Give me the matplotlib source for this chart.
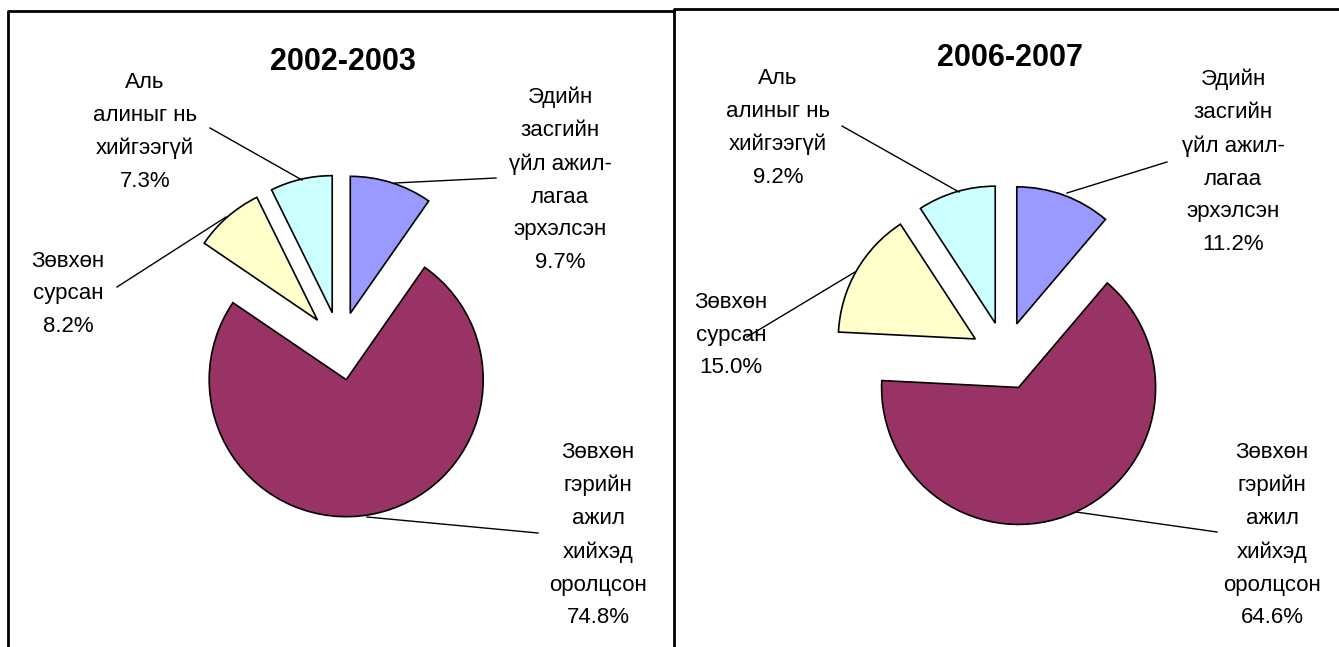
import matplotlib.pyplot as plt

# Daten
categories = [
    "Эдийн\nзасгийн\nүйл ажил-\nлагаа\nэрхэлсэн",
    "Зөвхөн\nгэрийн\nажил\nхийхэд\nоролцсон",
    "Зөвхөн\nсурсан",
    "Аль\nалиныг нь\nхийгээгүй",
]
colors = ["#9999FF", "#993366", "#FFFFCC", "#CCFFFF"]
titles = ["2002-2003", "2006-2007"]
values_2002 = [9.7, 74.8, 8.2, 7.3]
values_2006 = [11.2, 64.6, 15.0, 9.2]

W, H = 1339, 647
R = 137
plt.rcParams['font.family'] = ['Liberation Sans', 'DejaVu Sans']

fig = plt.figure(figsize=(W / 100, H / 100), dpi=100)
ax = fig.add_axes([0, 0, 1, 1])


def py(y):
    # Pixel-y (von oben) -> Datenkoordinate (von unten)
    return H - y


def draw_panel(values, title, center, title_pos, label_pos, leaders):
    # explode ist in Datenkoordinaten (Pixel), nicht relativ zum Radius
    ax.pie(values, colors=colors, startangle=90, counterclock=False,
           radius=R, center=(center[0], py(center[1])),
           explode=[0.25 * R] * len(values), frame=True,
           wedgeprops=dict(edgecolor='black', linewidth=1.2))
    ax.text(title_pos[0], py(title_pos[1]), title, ha='center', va='center',
            fontsize=22, fontweight='bold')
    for name, v, (lx, ly) in zip(categories, values, label_pos):
        ax.text(lx, py(ly), name + "\n" + f"{v:.1f}%", ha='center', va='center',
                multialignment='center', fontsize=16, linespacing=1.74)
    for (x0, y0), (x1, y1) in leaders:
        ax.plot([x0, x1], [py(y0), py(y1)], color='black', linewidth=1)


draw_panel(values_2002, titles[0], (340, 346), (343, 62),
           [(560, 180), (598, 535), (68, 294), (145, 132)],
           [((395, 183), (496, 178)), ((367, 517), (538, 533)),
            ((117, 287), (226, 217)), ((210, 128), (302, 180))])

draw_panel(values_2006, titles[1], (1005, 356), (1010, 58),
           [(1233, 162), (1272, 535), (731, 335), (778, 128)],
           [((1067, 193), (1167, 162)), ((1076, 512), (1217, 532)),
            ((747, 337), (855, 272)), ((842, 126), (959, 192))])

# Rahmen der beiden Diagrammflächen
ax.plot([8, 8, 674], [py(H), py(11), py(11)], color='black', linewidth=2)
ax.plot([674, 674, W], [py(H), py(8.5), py(8.5)], color='black', linewidth=2)

ax.set_xlim(0, W)
ax.set_ylim(0, H)
ax.set_aspect('auto')
ax.axis('off')

fig.savefig("out.png", dpi=100)
